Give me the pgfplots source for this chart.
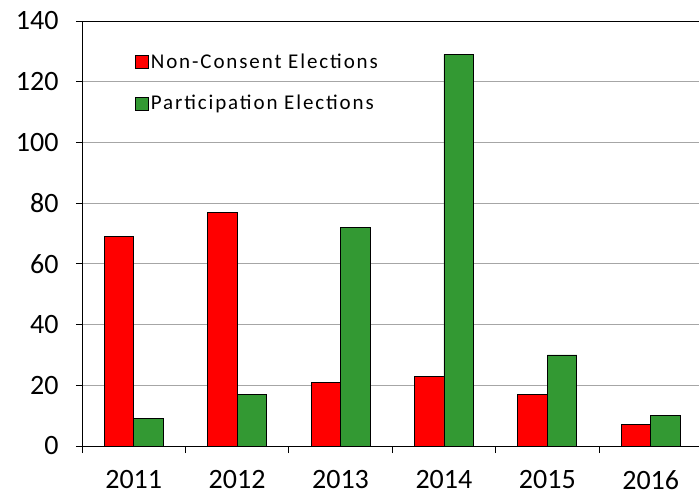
\documentclass[border=0pt]{standalone}
\usepackage{fontspec}
\setmainfont{Carlito}
\usepackage{pgfplots}
\pgfplotsset{compat=1.18}
\definecolor{barred}{HTML}{FF0000}
\definecolor{bargreen}{HTML}{339933}
\begin{document}
\begin{tikzpicture}
\begin{axis}[
    at={(0pt,0pt)}, anchor=south west,
    scale only axis, width=617pt, height=425pt,
    ybar=0pt, bar width=29.5pt,
    xmin=-0.5, xmax=5.467,
    ymin=0, ymax=140,
    ytick={0,20,...,140},
    xtick={0,...,5},
    xticklabels={2011,2012,2013,2014,2015,2016},
    minor xtick={-0.5,0.5,...,5.5},
    axis x line*=bottom, axis y line*=left,
    axis line style={black, line width=0.9pt, -},
    ymajorgrids, grid style={gray!70, line width=0.8pt},
    tick align=outside,
    major tick length=6pt, minor tick length=7pt,
    x tick style={draw=none},
    minor x tick style={draw=black, line width=0.9pt},
    y tick style={black, line width=0.9pt},
    /pgf/number format/assume math mode=true,
    yticklabel style={font=\fontsize{28}{30}\selectfont, xshift=-14pt},
    xticklabel style={font=\fontsize{28}{30}\selectfont, yshift=-15pt},
    legend style={draw=none, fill=none, at={(50pt,396pt)}, anchor=north west,
        font=\fontsize{21}{24}\selectfont\addfontfeatures{LetterSpace=9}, row sep=21pt,
        /tikz/every even column/.append style={column sep=5pt}},
    legend cell align=left,
    legend image code/.code={\draw[#1, draw=black, line width=0.6pt] (0pt,-6.5pt) rectangle (13pt,6.5pt);},
    clip=false,
]
\addplot[fill=barred, draw=black, line width=0.8pt] coordinates {
    (0,69) (1,77) (2,21) (3,23) (4,17) (5,7)
};
\addplot[fill=bargreen, draw=black, line width=0.8pt] coordinates {
    (0,9) (1,17) (2,72) (3,129) (4,30) (5,10)
};
\legend{Non-Consent Elections, Participation Elections}
\draw[black, line width=0.9pt] (rel axis cs:0,1) -- (rel axis cs:1,1);
\end{axis}
\pgfresetboundingbox
\path (-82pt,-52pt) rectangle (617pt,446pt);
\end{tikzpicture}
\end{document}
